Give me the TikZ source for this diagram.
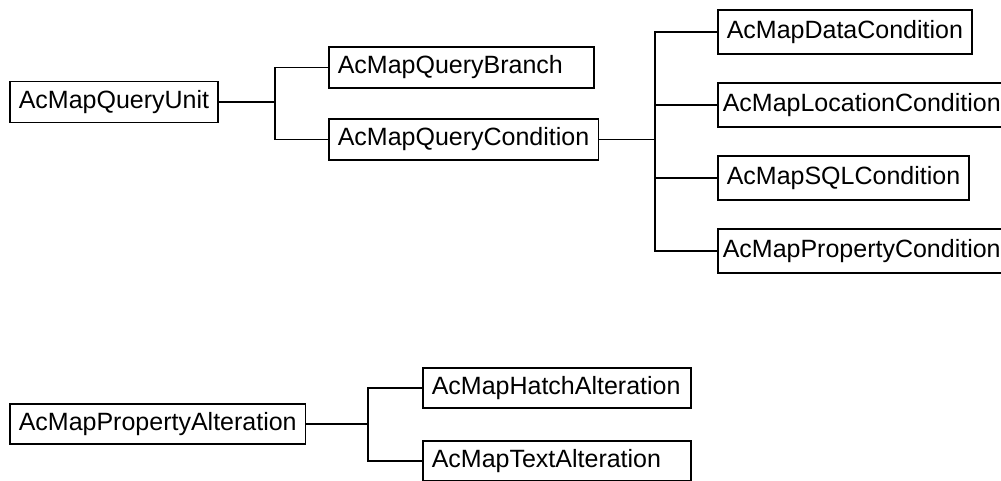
\documentclass[tikz,border=0pt]{standalone}
\usepackage{fontspec}
\setmainfont{Liberation Sans}
\usetikzlibrary{positioning}

\begin{document}
\begin{tikzpicture}[x=1pt, y=-1pt, line width=1.5pt, every node/.style={font=\fontsize{25}{29}\selectfont},
  cls/.style={draw, anchor=west, minimum height=41pt, inner xsep=9pt, inner ysep=0pt},
  wide/.style={cls, text width=#1, align=left}]
\useasboundingbox (0,0) rectangle (1001,481);
% query tree
\node[cls] (unit) at (9,102) {AcMapQueryUnit};
\node[wide=247pt] (branch) at (328,67.5) {AcMapQueryBranch};
\node[cls] (cond) at (328,139.5) {AcMapQueryCondition};
\coordinate (jq) at (275,102);
\draw (unit) -- (jq);
\draw (branch.west) -| (jq) |- (cond.west);
% conditions
\node[cls, minimum height=44pt] (data) at (717,32) {AcMapDataCondition};
\node[cls, minimum height=44pt, inner xsep=5pt, below=27.5pt of data.south west, anchor=north west] (loc) {AcMapLocationCondition};
\node[cls, minimum height=44pt, below=27.5pt of loc.south west, anchor=north west] (sql) {AcMapSQLCondition};
\node[cls, minimum height=44pt, inner xsep=5pt, below=27.5pt of sql.south west, anchor=north west] (prop) {AcMapPropertyCondition};
\coordinate (jc) at (655,139.5);
\draw (cond) -- (jc);
\draw (data.west) -| (jc) |- (prop.west);
\draw (loc.west) -- (loc.west -| jc);
\draw (sql.west) -- (sql.west -| jc);
% alterations
\node[cls, minimum height=40pt] (alter) at (9,424) {AcMapPropertyAlteration};
\node[wide=250pt, minimum height=40pt] (hatch) at (422,388) {AcMapHatchAlteration};
\node[wide=250pt, minimum height=40pt] (text) at (422,461) {AcMapTextAlteration};
\coordinate (ja) at (368,424);
\draw (alter) -- (ja);
\draw (hatch.west) -| (ja) |- (text.west);
\end{tikzpicture}
\end{document}
